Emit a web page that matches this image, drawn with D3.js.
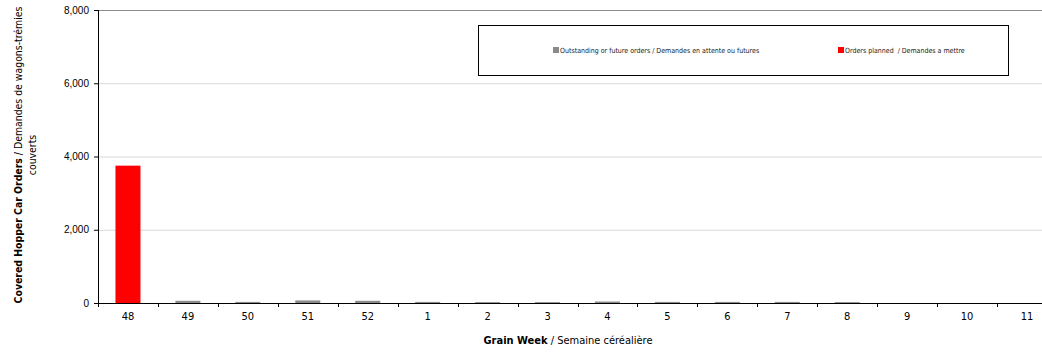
<!DOCTYPE html>
<html>
<head>
<meta charset="utf-8">
<script src="https://cdn.jsdelivr.net/npm/d3@7"></script>
<style>
  body { margin: 0; background: #fff; }
  svg { display: block; }
  .narrow { font-family: "Liberation Sans Narrow", "DejaVu Sans Condensed", "Liberation Sans", sans-serif; white-space: pre; }
</style>
</head>
<body>
<svg id="chart" width="1042" height="353"></svg>
<script>
const weeks = ['48', '49', '50', '51', '52', '1', '2', '3', '4', '5', '6', '7', '8', '9', '10', '11'];
const outstanding = [0, 60, 30, 70, 60, 30, 25, 25, 40, 30, 30, 30, 25, 0, 0, 0];
const planned = [3750, 0, 0, 0, 0, 0, 0, 0, 0, 0, 0, 0, 0, 0, 0, 0];
const yTicks = [0, 2000, 4000, 6000, 8000];
const legendLabels = ['Outstanding or future orders / Demandes en attente ou futures', 'Orders planned  / Demandes a mettre'];

const svg = d3.select('#chart');
const plotLeft = 98, plotRight = 1057, plotTop = 10, plotBottom = 303;

const x = d3.scaleBand().domain(weeks).range([plotLeft, plotRight]);
const y = d3.scaleLinear().domain([0, 8000]).range([plotBottom, plotTop]);
const barW = 25;

// gridlines
svg.append('g')
    .selectAll('line')
    .data(yTicks.filter(d => d > 0))
    .enter()
    .append('line')
    .attr('x1', plotLeft)
    .attr('x2', 1042)
    .attr('y1', d => y(d) + 0.5)
    .attr('y2', d => y(d) + 0.5)
    .attr('stroke', d => d === 8000 ? '#8c8c8c' : '#d9d9d9')
    .attr('stroke-width', 1);

// bars
const data = weeks.map((w, i) => ({ week: w, out: outstanding[i], plan: planned[i] }));
svg.append('g')
    .selectAll('rect')
    .data(data)
    .enter()
    .append('rect')
    .attr('x', d => x(d.week) + (x.bandwidth() - barW) / 2)
    .attr('width', barW)
    .attr('y', d => y(d.out))
    .attr('height', d => y(0) - y(d.out))
    .attr('fill', '#8a8a8a');

svg.append('g')
    .selectAll('rect')
    .data(data)
    .enter()
    .append('rect')
    .attr('x', d => x(d.week) + (x.bandwidth() - barW) / 2)
    .attr('width', barW)
    .attr('y', d => y(d.out + d.plan))
    .attr('height', d => y(d.out) - y(d.out + d.plan))
    .attr('fill', '#ff0000');

// y axis
const yAxis = d3.axisLeft(y)
    .tickValues(yTicks)
    .tickFormat(d3.format(','))
    .tickSize(4)
    .tickPadding(5);
const yg = svg.append('g')
    .attr('transform', `translate(${plotLeft},0)`)
    .call(yAxis);
yg.select('.domain').attr('stroke', '#000').attr('d', `M0.5,${plotTop}V${plotBottom}`);
yg.selectAll('.tick line').attr('stroke', '#000');
yg.selectAll('text')
    .style('font-family', '"Liberation Sans", Arial, sans-serif')
    .style('font-size', '10px')
    .attr('fill', '#000');

// x axis
const xAxis = d3.axisBottom(x).tickSize(0).tickPadding(9);
const xg = svg.append('g')
    .attr('transform', `translate(0,${plotBottom})`)
    .call(xAxis);
xg.select('.domain').attr('stroke', '#000').attr('d', `M${plotLeft},0.5H1042`);
xg.selectAll('text')
    .attr('class', 'narrow')
    .style('font-size', '11px')
    .attr('fill', '#000');
xg.selectAll('.sep')
    .data(weeks)
    .enter()
    .append('line')
    .attr('x1', d => Math.round(x(d)) + 0.5)
    .attr('x2', d => Math.round(x(d)) + 0.5)
    .attr('y1', 0)
    .attr('y2', 4)
    .attr('stroke', '#000');

// axis titles
const xTitle = svg.append('text')
    .attr('class', 'narrow')
    .attr('x', 568)
    .attr('y', 344)
    .attr('text-anchor', 'middle')
    .style('font-size', '11px');
xTitle.append('tspan').attr('font-weight', 'bold').text('Grain Week');
xTitle.append('tspan').text(' / Semaine céréalière');

const yTitle = svg.append('text')
    .attr('class', 'narrow')
    .attr('transform', 'translate(22,155) rotate(-90)')
    .attr('text-anchor', 'middle')
    .style('font-size', '10.4px');
yTitle.append('tspan').attr('font-weight', 'bold').text('Covered Hopper Car Orders');
yTitle.append('tspan').text(' / Demandes de wagons-trémies');
svg.append('text')
    .attr('class', 'narrow')
    .attr('transform', 'translate(36,155) rotate(-90)')
    .attr('text-anchor', 'middle')
    .style('font-size', '10.4px')
    .text('couverts');

// legend
svg.append('rect')
    .attr('x', 478.5)
    .attr('y', 25.5)
    .attr('width', 530)
    .attr('height', 50)
    .attr('fill', '#fff')
    .attr('stroke', '#000');
const legendX = [553, 838];
const legendColors = ['#8a8a8a', '#ff0000'];
const lg = svg.append('g')
    .selectAll('g')
    .data(legendLabels)
    .enter()
    .append('g')
    .attr('transform', (d, i) => `translate(${legendX[i]},50)`);
lg.append('rect')
    .attr('x', 0)
    .attr('y', -3)
    .attr('width', 6)
    .attr('height', 6)
    .attr('fill', (d, i) => legendColors[i]);
lg.append('text')
    .attr('class', 'narrow')
    .attr('x', 7)
    .attr('y', 2.5)
    .style('font-size', '7px')
    .attr('fill', '#222')
    .text(d => d);
</script>
</body>
</html>
